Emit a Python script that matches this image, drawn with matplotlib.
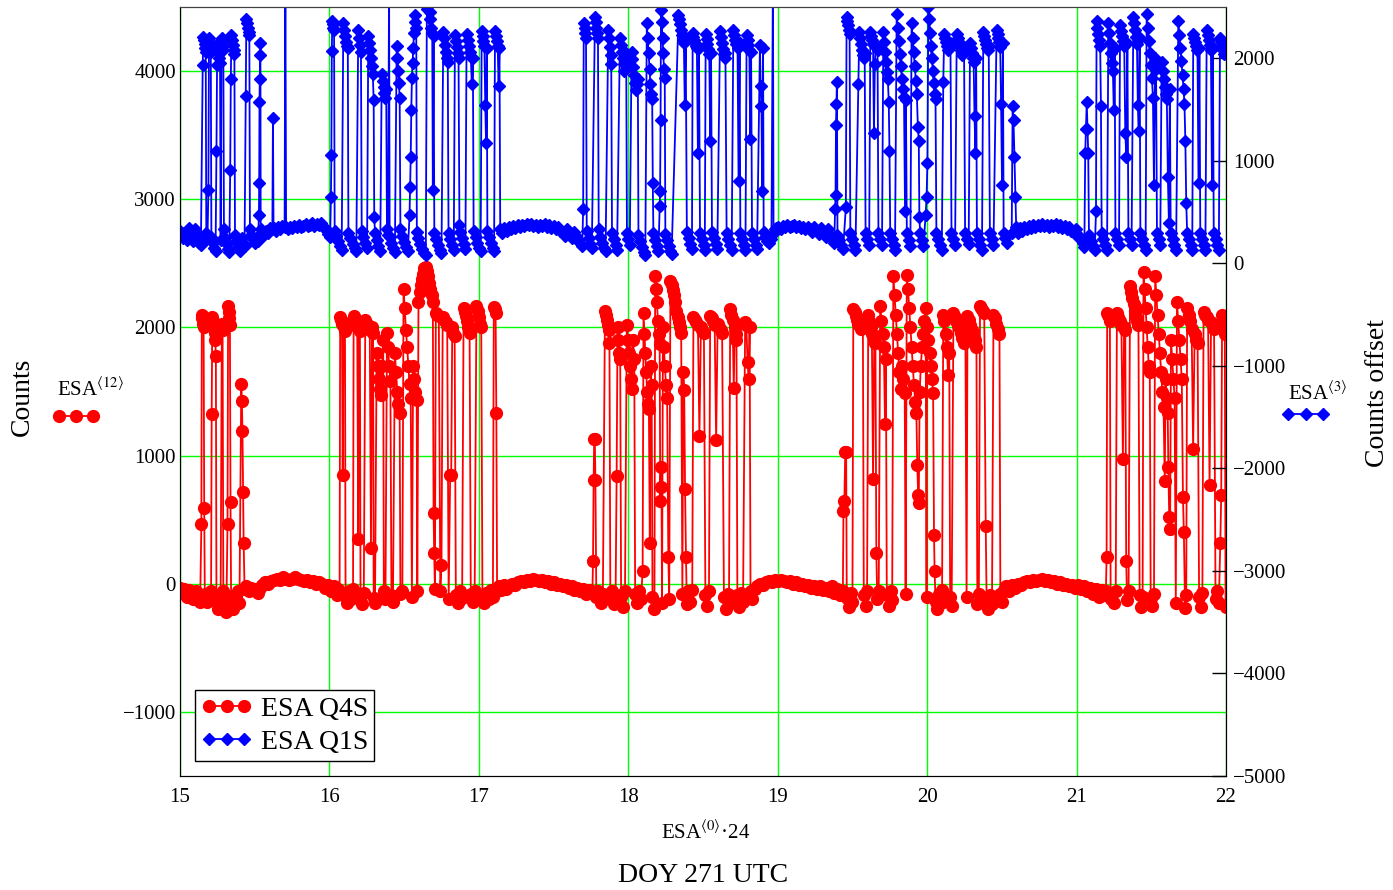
import numpy as np
import matplotlib.pyplot as plt
from matplotlib.lines import Line2D

plt.rcParams.update({'font.family': 'Liberation Serif', 'mathtext.fontset': 'stix', 'font.size': 15})

# ---- ESA Q4S (left axis), hours vs counts ----
q4s_pass1 = [(15.000,-30),(15.015,-70),(15.030,-40),(15.045,-100),(15.060,-50),(15.075,-80),(15.090,-120),(15.105,-60),(15.120,-90),(15.135,-140),
    (15.143,467),(15.146,2100),(15.150,2070),(15.154,2030),(15.158,2000),(15.162,590),(15.166,-80),(15.178,-140),(15.190,-90),(15.200,-130),
    (15.208,-60),(15.212,1323),(15.216,2080),(15.221,2050),(15.226,2010),(15.231,1960),(15.236,1905),(15.240,1775),(15.244,-120),(15.252,-200),(15.262,-150),(15.272,-90),
    (15.280,2030),(15.285,1980),(15.290,-60),(15.300,-180),(15.310,-220),
    (15.318,467),(15.322,2165),(15.326,2120),(15.330,2070),(15.334,2020),(15.338,638),(15.342,-100),(15.352,-200),(15.362,-160),(15.372,-100),(15.385,-60),(15.398,-150),
    (15.410,1556),(15.414,1424),(15.418,1190),(15.422,716),(15.426,319),(15.432,-40),(15.445,-20),(15.460,-60),(15.475,-30),(15.490,-50)]
q4s_quiet1 = [(15.505,-40),(15.52,-70),(15.535,-30),(15.55,-10),(15.57,10),(15.59,0),(15.61,20),(15.63,30),(15.65,40),(15.67,30),(15.69,50),(15.71,40),
    (15.73,30),(15.75,40),(15.77,50),(15.79,40),(15.81,30),(15.83,20),(15.85,30),(15.87,10),(15.89,20),(15.91,0),(15.93,10),(15.95,0),(15.97,-30),
    (15.99,-10),(16.01,-60),(16.03,-20),(16.05,-90),(16.06,-40)]
q4s_pass2 = [(16.068,-80),(16.072,2085),(16.078,2060),(16.084,2030),(16.089,850),(16.094,2040),(16.099,2000),(16.104,1975),(16.108,-100),
    (16.118,-150),(16.130,-60),(16.145,-120),(16.158,-40),(16.162,2090),(16.170,2060),(16.178,2030),(16.186,2000),(16.193,350),(16.198,2010),(16.204,1975),(16.208,-90),
    (16.218,-160),(16.230,-70),(16.240,2060),(16.250,2030),(16.260,2000),(16.270,1980),(16.278,280),(16.285,2000),(16.292,1960),(16.296,-110),
    (16.305,-150),(16.316,1800),(16.323,1700),(16.330,1600),(16.338,1520),(16.345,1470),(16.352,1700),(16.360,1900),(16.364,-60),
    (16.375,-120),(16.385,1960),(16.392,1850),(16.400,1700),(16.408,1580),(16.415,-90),(16.425,-140),(16.438,1800),(16.446,1650),(16.454,1500),(16.462,1400),(16.470,1330),(16.475,-80),
    (16.488,-60),(16.496,2300),(16.504,2150),(16.512,1980),(16.520,1850),(16.528,1700),(16.536,1560),(16.544,1450),(16.552,-100),(16.560,1700),(16.568,1600),(16.576,1500),(16.584,1430),(16.588,-60),
    (16.596,2200),(16.604,2280),(16.612,2330),(16.620,2380),(16.628,2420),(16.636,2460),(16.644,2475),(16.652,2440),(16.660,2400),(16.668,2350),(16.676,2300),(16.684,2250),(16.692,2200),(16.697,550),(16.701,240),(16.706,-40),
    (16.712,2115),(16.722,2100),(16.732,2090),(16.742,-60),(16.750,150),(16.758,2080),(16.768,2060),(16.778,2040),(16.788,2020),(16.798,-120),(16.808,850),(16.815,850),(16.822,2000),(16.830,1960),(16.838,1930),(16.846,-90),
    (16.860,-150),(16.875,-60),(16.888,-110),(16.898,2150),(16.906,2120),(16.914,2090),(16.922,2050),(16.930,2000),(16.938,1960),(16.946,-80),
    (16.958,-140),(16.972,-60),(16.984,2170),(16.992,2130),(17.000,2080),(17.008,2030),(17.016,2000),(17.024,-100),
    (17.036,-150),(17.050,-70),(17.065,-120),(17.080,-50),(17.094,-100),(17.100,2160),(17.106,2140),(17.112,2110),(17.117,1330),(17.122,-60)]
q4s_quiet2 = [(17.135,-20),(17.15,-50),(17.165,-10),(17.18,-40),(17.20,-20),(17.22,0),(17.24,-10),(17.26,10),(17.28,20),(17.30,10),(17.32,30),(17.34,20),
    (17.36,40),(17.38,30),(17.40,20),(17.42,30),(17.44,10),(17.46,20),(17.48,0),(17.50,10),(17.52,-10),(17.54,0),(17.56,-20),(17.58,-10),(17.60,-30),
    (17.62,-20),(17.64,-50),(17.66,-30),(17.68,-60),(17.70,-40),(17.72,-80),(17.74,-50)]
q4s_pass3 = [(17.760,-60),(17.764,180),(17.768,810),(17.772,1130),(17.776,1130),(17.780,810),(17.786,-100),(17.800,-60),(17.815,-150),(17.830,-80),
    (17.844,2130),(17.850,2100),(17.856,2060),(17.862,2020),(17.868,1980),(17.874,1880),(17.880,-120),(17.892,-60),(17.905,-160),(17.915,-90),
    (17.922,840),(17.928,2000),(17.934,1900),(17.940,1800),(17.946,1750),(17.952,-100),(17.965,-180),(17.978,-60),
    (17.990,2020),(17.997,1900),(18.004,1800),(18.011,1700),(18.018,1600),(18.025,1520),(18.032,1900),(18.040,1750),(18.046,-80),(18.058,-150),(18.070,-60),(18.085,-120),(18.096,100),
    (18.102,2115),(18.108,1950),(18.114,1800),(18.120,1650),(18.126,1500),(18.132,1400),(18.138,1360),(18.144,320),(18.150,1700),(18.156,1550),(18.162,-100),
    (18.175,-200),(18.180,2400),(18.186,2300),(18.192,2200),(18.198,2050),(18.204,1950),(18.210,1870),(18.214,645),(18.218,910),(18.222,755),(18.226,-150),
    (18.232,2000),(18.238,1850),(18.245,1700),(18.252,1550),(18.260,1450),(18.268,210),(18.274,-120),
    (18.282,2365),(18.290,2330),(18.298,2290),(18.306,2250),(18.314,2200),(18.322,2130),(18.330,2080),(18.338,2040),(18.346,2000),(18.354,1960),(18.362,-80),
    (18.368,1650),(18.374,1515),(18.380,740),(18.386,210),(18.392,-160),
    (18.402,-60),(18.415,-140),(18.428,-50),(18.436,2080),(18.446,2060),(18.456,2040),(18.466,2020),(18.476,1150),(18.486,2000),(18.496,1980),(18.506,1960),(18.516,-90),(18.528,-170),(18.540,-60),
    (18.548,2090),(18.558,2070),(18.568,2050),(18.578,2020),(18.588,1120),(18.598,2030),(18.608,2000),(18.618,1980),(18.628,1960),(18.640,-100),(18.652,-200),(18.664,-80),(18.674,-140),
    (18.682,2140),(18.690,2100),(18.698,2060),(18.706,1525),(18.712,2000),(18.718,1950),(18.724,1900),(18.730,-90),(18.742,-180),(18.755,-70),(18.768,-140),
    (18.782,2040),(18.790,2020),(18.798,1730),(18.806,1600),(18.812,2000),(18.818,-60),(18.830,-120),(18.845,-40)]
q4s_quiet3 = [(18.86,-20),(18.88,0),(18.90,-10),(18.92,10),(18.94,20),(18.96,10),(18.98,30),(19.00,20),(19.02,30),(19.04,20),(19.06,10),(19.08,20),
    (19.10,0),(19.12,10),(19.14,-10),(19.16,0),(19.18,-20),(19.20,-10),(19.22,-30),(19.24,-20),(19.26,-40),(19.28,-20),(19.30,-50),(19.32,-30),
    (19.34,-60),(19.36,-20),(19.38,-70),(19.40,-40),(19.42,-90)]
q4s_pass4 = [(19.436,-60),(19.440,570),(19.446,645),(19.452,1030),(19.458,1030),(19.462,-110),(19.475,-180),(19.490,-70),(19.500,-140),
    (19.506,2145),(19.514,2120),(19.522,2090),(19.530,2060),(19.540,2030),(19.550,2010),(19.560,1990),(19.570,2000),(19.576,-90),(19.588,-170),(19.598,-60),
    (19.606,2100),(19.614,2050),(19.622,2000),(19.630,1950),(19.638,815),(19.646,1900),(19.654,1880),(19.660,240),(19.666,-120),(19.676,-60),
    (19.686,2170),(19.694,2050),(19.702,1950),(19.710,1850),(19.718,1245),(19.724,1750),(19.730,-90),(19.742,-170),(19.755,-60),(19.766,-130),
    (19.774,2400),(19.782,2250),(19.790,2100),(19.798,1950),(19.806,1800),(19.814,1650),(19.822,1520),(19.830,1700),(19.840,1600),(19.850,1490),(19.856,-80),
    (19.864,2410),(19.872,2300),(19.880,2150),(19.888,2000),(19.896,1850),(19.904,1700),(19.912,1550),(19.920,1420),(19.928,1330),(19.934,925),(19.940,690),(19.944,630),
    (19.950,1500),(19.958,1700),(19.966,1850),(19.974,1950),(19.982,2050),(19.990,2150),(19.996,-100),
    (20.000,2000),(20.008,1900),(20.016,1800),(20.024,1700),(20.032,1600),(20.040,1490),(20.046,380),(20.050,100),(20.056,-140),(20.066,-200),(20.078,-80),(20.090,-150),(20.100,-50),
    (20.108,2100),(20.116,2050),(20.124,1950),(20.132,1850),(20.140,1630),(20.148,1800),(20.154,-100),(20.164,-170),
    (20.176,2110),(20.186,2080),(20.196,2050),(20.206,2020),(20.216,2000),(20.226,1960),(20.236,1920),(20.246,1880),(20.256,1950),(20.264,-100),
    (20.270,2090),(20.280,2060),(20.290,2020),(20.300,1980),(20.310,1940),(20.320,1900),(20.330,1850),(20.336,-160),(20.346,-80),
    (20.354,2170),(20.362,2150),(20.372,2130),(20.382,2110),(20.392,450),(20.398,-120),(20.410,-200),(20.422,-90),(20.434,-160),
    (20.444,2100),(20.454,2070),(20.464,2030),(20.474,1990),(20.484,1950),(20.490,-80),(20.502,-140),(20.515,-50)]
q4s_quiet4 = [(20.53,-20),(20.55,-60),(20.57,-10),(20.59,-30),(20.61,0),(20.63,-10),(20.65,10),(20.67,20),(20.69,10),(20.71,30),(20.73,20),(20.75,30),
    (20.77,40),(20.79,20),(20.81,30),(20.83,10),(20.85,20),(20.87,0),(20.89,10),(20.91,-10),(20.93,0),(20.95,-20),(20.97,-10),(20.99,-30),(21.01,-10),
    (21.03,-40),(21.05,-20),(21.07,-60),(21.09,-30),(21.11,-80),(21.13,-40),(21.15,-100),(21.17,-50),(21.19,-90)]
q4s_pass5 = [(21.196,-60),(21.201,210),(21.205,2115),(21.211,2100),(21.217,2080),(21.223,2050),(21.228,-120),(21.240,-70),(21.252,-150),(21.262,-60),
    (21.270,2110),(21.280,2080),(21.290,2050),(21.300,2020),(21.310,975),(21.318,2000),(21.326,1980),(21.332,180),(21.338,-130),(21.348,-60),
    (21.358,2320),(21.366,2280),(21.374,2230),(21.382,2180),(21.390,2130),(21.398,2080),(21.406,2050),(21.414,2020),(21.422,-90),(21.432,-180),(21.442,-100),
    (21.448,2430),(21.455,2300),(21.462,2150),(21.469,2000),(21.476,1850),(21.483,1700),(21.490,1650),(21.496,-110),(21.508,-170),(21.518,-80),
    (21.526,2400),(21.534,2250),(21.542,2100),(21.550,1950),(21.558,1800),(21.566,1650),(21.574,1500),(21.582,1380),(21.590,800),(21.596,1600),(21.604,1450),(21.610,1330),
    (21.614,910),(21.620,520),(21.626,430),(21.632,1900),(21.640,1750),(21.648,1600),(21.656,1450),(21.664,-150),
    (21.672,2200),(21.680,2050),(21.688,1900),(21.696,1750),(21.704,1600),(21.712,675),(21.718,400),(21.726,-190),(21.734,-90),
    (21.740,2150),(21.750,2100),(21.760,2050),(21.770,1990),(21.780,1050),(21.790,1950),(21.800,1900),(21.810,1880),(21.820,-100),(21.832,-180),(21.842,-70),
    (21.850,2120),(21.860,2100),(21.870,2080),(21.880,2060),(21.890,770),(21.900,2040),(21.910,2010),(21.920,1990),(21.930,-120),(21.942,-60),(21.952,-150),
    (21.962,320),(21.968,690),(21.974,2100),(21.980,2060),(21.986,2000),(21.992,1950),(21.997,-180)]

# ---- ESA Q1S (right axis, counts offset) ----
q1s_pass1 = [(15.000,320),(15.010,280),(15.020,250),(15.030,300),(15.040,260),(15.050,230),(15.060,340),(15.070,290),(15.080,250),(15.090,220),
    (15.100,330),(15.110,280),(15.120,240),(15.130,200),(15.140,180),
    (15.152,1937),(15.156,2210),(15.160,2180),(15.164,2140),(15.168,2100),(15.172,2065),(15.176,300),(15.184,250),
    (15.190,714),(15.194,2200),(15.198,2150),(15.202,2100),(15.206,2060),(15.210,260),(15.220,200),(15.230,150),(15.238,120),
    (15.244,1096),(15.248,1937),(15.252,2150),(15.256,2100),(15.260,2050),(15.264,2000),(15.268,1950),(15.272,230),
    (15.278,2200),(15.282,2160),(15.286,2120),(15.290,2080),(15.294,333),(15.302,250),(15.312,190),(15.322,140),(15.330,110),
    (15.336,910),(15.340,1800),(15.344,2230),(15.349,2180),(15.354,2130),(15.359,2080),(15.364,2040),(15.368,280),(15.378,220),(15.390,160),(15.400,120),
    (15.412,250),(15.422,200),(15.432,170),
    (15.440,1634),(15.444,2380),(15.449,2340),(15.454,2300),(15.459,2260),(15.464,2231),(15.468,330),(15.478,280),(15.490,240),(15.500,200),(15.512,260),(15.522,220),
    (15.528,470),(15.530,783),(15.532,1575),(15.534,1800),(15.536,2035),(15.538,2153),(15.540,330),(15.552,300),(15.565,280),(15.578,320),(15.590,300),(15.605,340),(15.618,330),
    (15.622,1419),(15.626,340),(15.640,320),(15.655,350),(15.670,330),(15.685,360),(15.700,350),(15.705,2800),(15.710,350)]
q1s_quiet1 = [(15.720,330),(15.735,350),(15.750,340),(15.765,360),(15.780,350),(15.795,370),(15.810,350),(15.825,360),(15.840,380),(15.855,360),
    (15.870,370),(15.885,390),(15.900,360),(15.915,380),(15.930,370),(15.945,390),(15.960,350),(15.975,330),(15.990,290),(16.005,260)]
q1s_pass2 = [(16.010,646),(16.013,1057),(16.016,2074),(16.019,2360),(16.023,2330),(16.027,2300),(16.031,2280),(16.035,320),(16.045,270),(16.058,220),(16.070,170),(16.082,130),
    (16.093,2340),(16.099,2280),(16.105,2220),(16.111,2160),(16.117,2120),(16.123,2100),(16.127,300),(16.140,250),(16.155,190),(16.168,150),(16.180,120),
    (16.193,2280),(16.199,2200),(16.205,2130),(16.211,2060),(16.216,320),(16.228,260),(16.240,200),(16.252,150),
    (16.260,2220),(16.266,2150),(16.272,2080),(16.278,2000),(16.284,1920),(16.290,1850),(16.296,1595),(16.300,450),(16.305,300),(16.316,230),(16.328,170),(16.340,120),
    (16.350,1850),(16.356,1780),(16.362,1720),(16.368,1660),(16.374,1615),(16.380,1700),(16.385,330),(16.393,280),
    (16.399,2800),(16.403,260),(16.412,200),(16.425,150),(16.438,110),
    (16.450,2120),(16.455,2000),(16.460,1880),(16.465,1760),(16.470,1615),(16.475,330),(16.488,270),(16.500,210),(16.512,160),(16.525,120),
    (16.536,470),(16.540,745),(16.544,1037),(16.548,1500),(16.552,1810),(16.556,1950),(16.561,2100),(16.566,2250),(16.571,2350),(16.576,2420),(16.581,2300),
    (16.585,310),(16.596,250),(16.608,190),(16.620,140),(16.632,100),(16.645,80),
    (16.652,2480),(16.658,2520),(16.664,2600),(16.670,2450),(16.676,2380),(16.682,2300),(16.688,2250),(16.692,715),(16.697,2220),(16.702,300),(16.714,240),(16.726,180),(16.738,130),(16.750,100),
    (16.762,2260),(16.768,2200),(16.774,2130),(16.780,2060),(16.786,2000),(16.792,1965),(16.797,300),(16.808,240),(16.820,180),(16.832,130),
    (16.840,2230),(16.846,2170),(16.852,2110),(16.858,2050),(16.864,2000),(16.870,370),(16.875,310),(16.886,250),(16.898,190),(16.910,140),
    (16.918,2240),(16.925,2180),(16.932,2120),(16.939,2060),(16.946,2010),(16.953,1750),(16.960,2000),(16.965,320),(16.978,260),(16.990,200),(17.002,150),(17.012,120),
    (17.019,2270),(17.025,2220),(17.031,2170),(17.037,2120),(17.043,1540),(17.048,1175),(17.053,2100),(17.057,320),(17.068,260),(17.080,200),(17.092,150),(17.102,120),
    (17.108,2270),(17.114,2220),(17.120,2170),(17.126,2120),(17.132,1730),(17.138,2100),(17.143,330),(17.155,300),(17.170,340)]
q1s_quiet2 = [(17.185,320),(17.200,350),(17.215,330),(17.230,360),(17.245,340),(17.260,370),(17.275,350),(17.290,370),(17.305,360),(17.320,380),
    (17.335,370),(17.350,380),(17.365,360),(17.380,370),(17.395,350),(17.410,370),(17.425,360),(17.440,380),(17.455,350),(17.470,370),(17.485,340),
    (17.500,360),(17.515,330),(17.530,350),(17.545,320),(17.560,300),(17.575,270),(17.590,330),(17.605,290),(17.620,250),(17.635,310),(17.650,270),
    (17.665,230),(17.680,200),(17.692,170)]
q1s_pass3 = [(17.698,530),(17.702,2340),(17.707,2300),(17.712,2250),(17.717,2200),(17.722,320),(17.734,250),(17.746,190),(17.756,150),
    (17.777,2400),(17.782,2350),(17.787,2300),(17.792,2250),(17.797,2200),(17.802,330),(17.814,260),(17.826,200),(17.838,150),(17.848,120),
    (17.866,2280),(17.871,2200),(17.876,2110),(17.881,2030),(17.886,1945),(17.891,300),(17.903,240),(17.915,180),(17.925,130),
    (17.944,2200),(17.950,2130),(17.956,2060),(17.962,2000),(17.968,1940),(17.974,1880),(17.980,1950),(17.986,2050),(17.991,300),(18.000,240),(18.010,180),
    (18.022,2065),(18.028,1990),(18.034,1910),(18.040,1840),(18.046,1760),(18.052,1690),(18.058,1750),(18.064,1800),(18.068,280),(18.080,220),(18.092,160),(18.104,110),(18.114,80),
    (18.124,2340),(18.130,2200),(18.136,2050),(18.142,1900),(18.148,1750),(18.154,1650),(18.160,1600),(18.164,785),(18.168,300),(18.180,230),(18.192,170),(18.202,120),
    (18.210,560),(18.213,705),(18.216,1400),(18.219,2475),(18.224,2350),(18.229,2200),(18.234,2050),(18.239,1900),(18.244,1810),(18.248,290),(18.258,230),(18.270,170),(18.282,120),(18.290,90),
    (18.336,2420),(18.342,2380),(18.348,2330),(18.354,2280),(18.360,2230),(18.366,2180),(18.372,2150),(18.378,1540),(18.384,2200),(18.392,310),(18.404,250),(18.416,190),(18.426,140),
    (18.431,2250),(18.436,2210),(18.441,2180),(18.446,2150),(18.452,2120),(18.459,2100),(18.466,1075),(18.473,2100),(18.480,300),(18.492,240),(18.504,180),(18.512,130),
    (18.518,2240),(18.524,2190),(18.530,2140),(18.536,2090),(18.542,2040),(18.548,1195),(18.554,2050),(18.560,310),(18.572,250),(18.584,190),(18.596,140),
    (18.614,2270),(18.620,2210),(18.626,2150),(18.632,2090),(18.638,2040),(18.644,2000),(18.650,2050),(18.658,300),(18.670,240),(18.682,180),(18.692,130),
    (18.703,2280),(18.710,2230),(18.717,2180),(18.724,2140),(18.731,2100),(18.738,800),(18.745,2150),(18.750,300),(18.762,240),(18.774,180),(18.784,130),
    (18.792,2230),(18.798,2180),(18.804,2130),(18.810,2080),(18.816,1215),(18.822,2060),(18.828,300),(18.840,240),(18.852,180),(18.862,140),
    (18.881,2130),(18.886,1730),(18.891,1535),(18.896,705),(18.902,2100),(18.906,310),(18.918,260),(18.930,220),(18.945,200),
    (18.958,240),(18.968,2800),(18.972,300),(18.985,330)]
q1s_quiet3 = [(18.990,340),(19.005,350),(19.020,330),(19.035,360),(19.050,350),(19.065,370),(19.080,350),(19.095,360),(19.110,370),(19.125,350),
    (19.140,360),(19.155,340),(19.170,350),(19.185,330),(19.200,350),(19.215,330),(19.230,310),(19.245,350),(19.260,320),(19.275,290),(19.290,340),
    (19.305,300),(19.320,260),(19.335,330),(19.350,280),(19.365,240),(19.378,200)]
q1s_pass4 = [(19.384,530),(19.387,665),(19.390,1350),(19.393,1555),(19.396,1770),(19.400,280),(19.412,230),(19.425,180),(19.438,140),
    (19.456,550),(19.461,2400),(19.466,2360),(19.471,2320),(19.476,2280),(19.481,2240),(19.486,300),(19.498,240),(19.510,180),(19.520,130),
    (19.540,1750),(19.546,2260),(19.552,2200),(19.558,2140),(19.564,2080),(19.570,2030),(19.576,2000),(19.582,2050),(19.588,300),(19.600,240),(19.612,180),
    (19.620,2260),(19.626,2220),(19.632,2180),(19.638,2140),(19.644,1275),(19.650,1945),(19.656,2120),(19.662,2100),(19.668,2080),(19.674,300),(19.686,240),(19.698,180),
    (19.707,2260),(19.713,2160),(19.719,2060),(19.725,1960),(19.731,1870),(19.737,1800),(19.743,1575),(19.748,1095),(19.753,300),(19.765,240),(19.775,180),(19.785,130),
    (19.796,2430),(19.803,2300),(19.810,2170),(19.817,2040),(19.824,1920),(19.831,1800),(19.838,1700),(19.845,1620),(19.852,510),(19.858,1595),(19.864,300),(19.876,230),(19.888,170),
    (19.896,2340),(19.903,2200),(19.910,2060),(19.917,1920),(19.924,1780),(19.931,1650),(19.938,1330),(19.944,1195),(19.948,450),(19.953,300),(19.965,230),(19.975,170),
    (19.990,470),(19.996,645),(20.002,980),(20.008,2500),(20.014,2380),(20.020,2250),(20.026,2120),(20.032,2000),(20.038,1880),(20.044,1760),(20.050,1650),(20.056,1600),
    (20.062,300),(20.074,240),(20.086,180),(20.098,130),
    (20.108,1770),(20.114,2240),(20.121,2200),(20.128,2160),(20.135,2120),(20.142,2080),(20.149,2100),(20.156,2150),(20.163,300),(20.175,240),(20.187,180),
    (20.198,2240),(20.205,2200),(20.212,2160),(20.219,2120),(20.226,2080),(20.233,2030),(20.240,2060),(20.247,2100),(20.254,300),(20.266,240),(20.278,190),
    (20.287,2150),(20.293,2100),(20.299,2050),(20.305,2000),(20.311,1960),(20.317,1435),(20.323,1075),(20.328,2000),(20.333,300),(20.345,240),(20.357,180),(20.367,130),
    (20.376,2260),(20.382,2220),(20.388,2180),(20.394,2140),(20.400,2100),(20.406,2080),(20.412,2120),(20.420,300),(20.432,240),(20.444,180),
    (20.465,2280),(20.471,2240),(20.477,2200),(20.483,2160),(20.489,2110),(20.495,1555),(20.501,765),(20.507,2150),(20.512,300),(20.524,250),(20.536,200),
    (20.566,300),(20.572,1535),(20.578,1400),(20.584,1040),(20.590,645),(20.596,350),(20.608,300)]
q1s_quiet4 = [(20.620,340),(20.635,320),(20.650,350),(20.665,330),(20.680,360),(20.695,340),(20.710,370),(20.725,350),(20.740,370),(20.755,360),
    (20.770,380),(20.785,360),(20.800,370),(20.815,350),(20.830,370),(20.845,360),(20.860,380),(20.875,350),(20.890,370),(20.905,340),(20.920,360),
    (20.935,330),(20.950,350),(20.965,320),(20.980,300),(20.995,330),(21.010,280),(21.025,240),(21.040,200),(21.052,160)]
q1s_pass5 = [(21.058,1075),(21.063,1310),(21.068,1575),(21.073,1310),(21.078,1075),(21.083,280),(21.095,220),(21.110,170),(21.122,130),
    (21.130,510),(21.134,2360),(21.140,2300),(21.146,2240),(21.152,2180),(21.158,2120),(21.163,1535),(21.168,300),(21.180,240),(21.192,180),(21.204,130),
    (21.213,2340),(21.219,2250),(21.225,2150),(21.231,2050),(21.237,1950),(21.243,1880),(21.249,1495),(21.255,2100),(21.260,300),(21.272,240),(21.284,180),
    (21.291,2320),(21.298,2270),(21.305,2220),(21.312,2170),(21.319,2120),(21.326,1275),(21.333,1040),(21.340,2150),(21.347,300),(21.358,240),(21.368,180),
    (21.380,2400),(21.386,2340),(21.392,2280),(21.398,2210),(21.404,2140),(21.410,1540),(21.416,1290),(21.422,2200),(21.427,300),(21.439,240),(21.452,180),(21.462,130),
    (21.469,2430),(21.476,2300),(21.483,2170),(21.490,2050),(21.497,1930),(21.504,1810),(21.511,1615),(21.518,765),(21.525,2000),(21.532,1900),(21.538,300),(21.550,240),(21.560,180),
    (21.569,1960),(21.576,1880),(21.583,1800),(21.590,1720),(21.597,1650),(21.604,1600),(21.611,840),(21.618,390),(21.624,1700),(21.630,300),(21.642,240),(21.654,180),(21.666,130),
    (21.681,2360),(21.688,2230),(21.695,2100),(21.702,1970),(21.709,1840),(21.716,1700),(21.722,1555),(21.728,1195),(21.734,585),(21.740,300),(21.752,240),(21.764,180),(21.774,130),
    (21.781,2240),(21.788,2200),(21.795,2160),(21.802,2120),(21.809,2080),(21.816,785),(21.822,2100),(21.828,300),(21.840,240),(21.852,180),(21.862,130),
    (21.871,2280),(21.878,2230),(21.885,2180),(21.892,2130),(21.899,2080),(21.906,765),(21.912,2100),(21.918,300),(21.930,240),(21.942,180),(21.952,130),
    (21.960,2200),(21.966,2160),(21.972,2120),(21.978,2080),(21.984,2040),(21.990,2100),(21.996,2150),(22.000,2120)]

q4s = q4s_pass1 + q4s_quiet1 + q4s_pass2 + q4s_quiet2 + q4s_pass3 + q4s_quiet3 + q4s_pass4 + q4s_quiet4 + q4s_pass5
q1s = q1s_pass1 + q1s_quiet1 + q1s_pass2 + q1s_quiet2 + q1s_pass3 + q1s_quiet3 + q1s_pass4 + q1s_quiet4 + q1s_pass5
q4s = np.array(sorted(q4s, key=lambda p: p[0]))
q1s = np.array(sorted(q1s, key=lambda p: p[0]))

red = '#ff0000'
blue = '#0000ff'
green = '#00ff00'

fig = plt.figure(figsize=(13.93, 8.90), dpi=100)
ax = fig.add_axes([180/1393, 114/890, 1046/1393, 769/890])
ax2 = ax.twinx()

l1, = ax.plot(q4s[:, 0], q4s[:, 1], color=red, lw=1.3, marker='o', ms=8.5, label='ESA Q4S')
l2, = ax2.plot(q1s[:, 0], q1s[:, 1], color=blue, lw=1.3, marker='D', ms=6.2, label='ESA Q1S')

ax.set_xlim(15, 22)
ax.set_ylim(-1500, 4500)
ax2.set_ylim(-5000, 2500)
ax.set_xticks(range(15, 23))
ax.set_yticks(range(-1000, 5000, 1000))
ax2.set_yticks(range(-5000, 3000, 1000))
ax.grid(True, color=green, lw=1)
ax.tick_params(axis='both', length=0, labelsize=15)
ax.tick_params(axis='y', pad=3)
ax.tick_params(axis='x', pad=9)
ax2.tick_params(axis='y', direction='in', length=10, width=1, pad=5, labelsize=15)
ax.spines['top'].set_color('#404040')
ax2.spines['top'].set_color('#404040')

leg = ax2.legend(handles=[l1, l2], loc='lower left', bbox_to_anchor=(0.0143, 0.0195), borderaxespad=0,
                 numpoints=3, fontsize=20, fancybox=False, edgecolor='black', framealpha=1,
                 handlelength=1.85, handletextpad=0.3, labelspacing=0.27, borderpad=0.22)
leg.get_frame().set_linewidth(1)

# axis annotations in the Mathcad style
fig.text(22/1393, 1-397/890, 'Counts', rotation=90, ha='center', va='center', fontsize=20)
fig.text(57/1393, 1-389/890, r'ESA$^{\langle 12\rangle}$', ha='left', va='center', fontsize=15)
fig.add_artist(Line2D([59/1393, 76/1393, 93/1393], [1-416/890]*3, color=red, lw=1.3, marker='o', ms=8.5))
fig.text(1288/1393, 1-393/890, r'ESA$^{\langle 3\rangle}$', ha='left', va='center', fontsize=15)
fig.add_artist(Line2D([1288/1393, 1306/1393, 1323/1393], [1-414/890]*3, color=blue, lw=1.3, marker='D', ms=6.2))
fig.text(1378/1393, 1-393/890, 'Counts offset', rotation=90, ha='center', va='center', fontsize=20)
fig.text(706/1393, 1-832/890, r'ESA$^{\langle 0\rangle}$·24', ha='center', va='center', fontsize=15)
fig.text(703/1393, 1-876/890, 'DOY 271 UTC', ha='center', va='center', fontsize=20)

fig.savefig('out.png', dpi=100)
